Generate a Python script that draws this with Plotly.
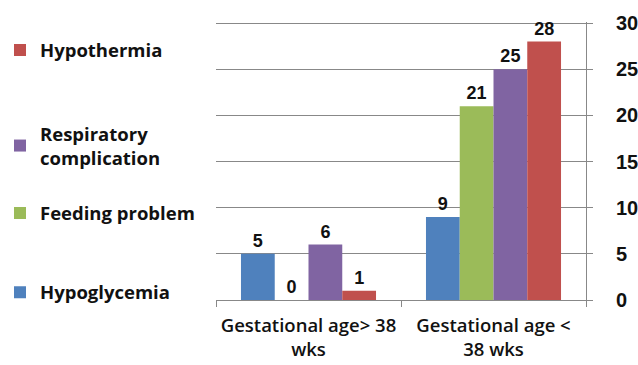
import plotly.graph_objects as go

categories = ["Gestational age> 38<br>wks", "Gestational age <<br>38 wks"]
series_names = ["Hypoglycemia", "Feeding problem", "Respiratory<br>complication", "Hypothermia"]
series_values = [
    [5, 9],
    [0, 21],
    [6, 25],
    [1, 28],
]
colors = ["#4F81BD", "#9BBB59", "#8064A2", "#C0504D"]
y_ticks = [0, 5, 10, 15, 20, 25, 30]

# one legend per series so each entry can sit at its own height
legend_ids = ["legend", "legend2", "legend3", "legend4"]
legend_y = [0.198, 0.415, 0.6, 0.862]

fig = go.Figure()
for name, vals, col, lid in zip(series_names, series_values, colors, legend_ids):
    fig.add_trace(go.Bar(
        x=categories, y=vals, name=name, marker_color=col,
        marker_line_width=0,
        text=[str(v) for v in vals], textposition="outside",
        textfont=dict(family="Liberation Sans, Arial", size=18, color="#111111", weight="bold"),
        cliponaxis=False, legend=lid,
    ))

leg_common = dict(
    xref="container", yref="container", x=0, xanchor="left", yanchor="middle",
    font=dict(family="Open Sans, Liberation Sans", size=18.5, color="#111111", weight="bold"),
    itemwidth=30, bgcolor="rgba(0,0,0,0)", tracegroupgap=0, itemclick=False,
)
layout_legends = {lid: dict(leg_common, y=ly) for lid, ly in zip(legend_ids, legend_y)}

fig.update_layout(
    width=638, height=365,
    margin=dict(l=216, r=52, t=22, b=65, autoexpand=False),
    paper_bgcolor="white", plot_bgcolor="white",
    barmode="group", bargap=0.27, bargroupgap=0,
    showlegend=True,
    xaxis=dict(
        tickson="boundaries", ticks="outside", ticklen=6, tickcolor="#888888",
        showline=True, linecolor="#888888", linewidth=1, showgrid=False,
        ticklabelstandoff=9,
        tickfont=dict(family="Open Sans, Liberation Sans", size=18.5, color="#111111", weight=600),
    ),
    yaxis=dict(
        side="right", range=[0, 30.12], tickvals=y_ticks,
        ticks="outside", ticklen=6, tickcolor="#888888",
        showline=True, linecolor="#888888", linewidth=1,
        showgrid=True, gridcolor="#888888", gridwidth=1, zeroline=False,
        ticklabelstandoff=19,
        tickfont=dict(family="Liberation Sans, Arial", size=20, color="#111111", weight="bold"),
    ),
    **layout_legends,
)

fig.write_html("out.html")
